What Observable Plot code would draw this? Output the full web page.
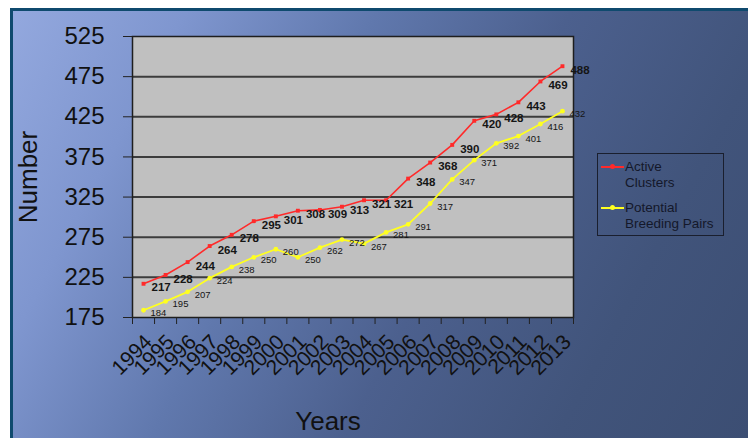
<!DOCTYPE html>
<html>
<head>
<meta charset="utf-8">
<script src="https://cdn.jsdelivr.net/npm/d3@7"></script>
<script src="https://cdn.jsdelivr.net/npm/@observablehq/plot@0.6"></script>
<style>
  html, body { margin: 0; padding: 0; background: #fff; }
  #wrap { position: relative; width: 748px; height: 438px; overflow: hidden; background: #fff; font-family: "Liberation Sans", Arial, sans-serif; }
  #bg { position: absolute; left: 10px; top: 8px; right: 0; bottom: 0;
        border-top: 3px solid #0f4a6e; border-left: 3px solid #0f4a6e;
        background: linear-gradient(118deg, #93a8de 0%, #7f96cf 18%, #6078ad 38%, #4c608e 58%, #41547b 80%, #3c4e73 100%); }
  #chart { position: absolute; left: 0; top: 0; }
  #legend { position: absolute; left: 597px; top: 153px; width: 125px; height: 81px;
            border: 1.5px solid #1a1f2e; font-size: 13.5px; color: #14182a; line-height: 16px; }
  .item { position: absolute; left: 27px; }
  .sw { position: absolute; left: 3px; width: 23px; height: 2px; }
  .sw i { position: absolute; left: 9px; top: -2px; width: 5px; height: 5px; border-radius: 50%; }
</style>
</head>
<body>
<div id="wrap">
  <div id="bg"></div>
  <div id="chart"></div>
  <div id="legend">
    <div class="sw" style="top:12px;background:#ff2a2a"><i style="background:#ff2a2a"></i></div>
    <div class="item" style="top:5px">Active<br>Clusters</div>
    <div class="sw" style="top:53px;background:#ffff20"><i style="background:#ffff20"></i></div>
    <div class="item" style="top:46px">Potential<br>Breeding Pairs</div>
  </div>
</div>
<script>
const years = [1994,1995,1996,1997,1998,1999,2000,2001,2002,2003,2004,2005,2006,2007,2008,2009,2010,2011,2012,2013];
const activeClusters = [217,228,244,264,278,295,301,308,309,313,321,321,348,368,390,420,428,443,469,488];
const breedingPairs = [184,195,207,224,238,250,260,250,262,272,267,281,291,317,347,371,392,401,416,432];
const yTicks = [175,225,275,325,375,425,475,525];
const seriesNames = ["Active Clusters", "Potential Breeding Pairs"];

const active = years.map((y, i) => ({year: y, value: activeClusters[i], series: seriesNames[0]}));
const pairs = years.map((y, i) => ({year: y, value: breedingPairs[i], series: seriesNames[1]}));
const boundaries = [years[0] - 0.5, ...years.map(y => y + 0.5)];

const chart = Plot.plot({
  width: 748,
  height: 438,
  marginLeft: 132,
  marginRight: 175,
  marginTop: 36,
  marginBottom: 121,
  style: {background: "transparent", fontFamily: "'Liberation Sans', Arial, sans-serif", color: "#111", overflow: "visible"},
  x: {domain: [years[0] - 0.5, years[years.length - 1] + 0.5]},
  y: {domain: [yTicks[0], yTicks[yTicks.length - 1]]},
  marks: [
    Plot.frame({fill: "#c0c0c0"}),
    Plot.gridY(yTicks.slice(1, -1), {stroke: "#3c3c3c", strokeOpacity: 1, strokeWidth: 2}),
    Plot.frame({stroke: "#1e1e1e", strokeWidth: 1.5}),
    Plot.axisY(yTicks, {tickSize: 9, tickPadding: 19, fontSize: 24, label: null, stroke: "#222", fill: "#111"}),
    Plot.axisY({ticks: [], label: "Number", labelAnchor: "center", labelArrow: "none", labelOffset: 114, fontSize: 26, fill: "#111"}),
    Plot.axisX(years, {tickSize: 0, tickRotate: -45, tickPadding: 21, dx: 5, fontSize: 21, tickFormat: d => String(d), label: null, fill: "#111"}),
    Plot.axisX(boundaries, {tickSize: 7, tickFormat: () => "", label: null, stroke: "#222"}),
    Plot.line(active, {x: "year", y: "value", stroke: "#ff2a2a", strokeWidth: 1.6}),
    Plot.line(pairs, {x: "year", y: "value", stroke: "#ffff20", strokeWidth: 1.8}),
    Plot.dot(active, {x: "year", y: "value", fill: "#ff2a2a", r: 2.2, symbol: "square"}),
    Plot.dot(pairs, {x: "year", y: "value", fill: "#ffff20", r: 2.4}),
    Plot.text(active, {x: "year", y: "value", text: d => String(d.value), dx: 8, dy: 4, textAnchor: "start", fontSize: 11.5, fontWeight: "bold", fill: "#151515"}),
    Plot.text(pairs, {x: "year", y: "value", text: d => String(d.value), dx: 7, dy: 3, textAnchor: "start", fontSize: 9.5, fill: "#151515"}),
    Plot.text(["Years"], {frameAnchor: "bottom", dx: -25, dy: 112, fontSize: 26, fill: "#111", letterSpacing: "1px"})
  ]
});
document.getElementById("chart").appendChild(chart);
</script>
</body>
</html>
